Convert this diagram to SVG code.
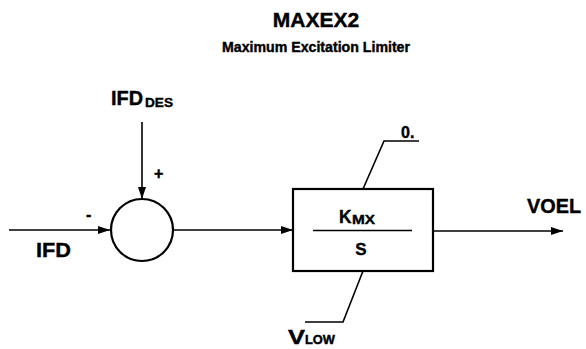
<svg xmlns="http://www.w3.org/2000/svg" width="586" height="349" viewBox="0 0 586 349">
<style>
text{font-family:"Liberation Sans",Arial,sans-serif;font-weight:bold;fill:#000;stroke:#000;stroke-width:0.4}
.ln{stroke:#000;stroke-width:1.6;fill:none}
.bx{stroke:#000;stroke-width:2.2;fill:#fff}
</style>
<defs>
<marker id="ah" markerUnits="userSpaceOnUse" markerWidth="13" markerHeight="9" refX="12" refY="4" orient="auto">
<path d="M0,0 L12,4 L0,8 z" fill="#000"/>
</marker>
</defs>
<rect width="586" height="349" fill="#fff"/>
<g id="title">
<text x="316" y="27" font-size="21" text-anchor="middle">MAXEX2</text>
<text x="316" y="52" font-size="14" text-anchor="middle" textLength="188" lengthAdjust="spacingAndGlyphs">Maximum Excitation Limiter</text>
</g>
<g id="connectors">
<line class="ln" x1="9" y1="230" x2="110" y2="230" marker-end="url(#ah)"/>
<line class="ln" x1="142" y1="122" x2="142" y2="199" marker-end="url(#ah)"/>
<line class="ln" x1="173" y1="230" x2="293" y2="230" marker-end="url(#ah)"/>
<line class="ln" x1="433" y1="231" x2="563" y2="231" marker-end="url(#ah)"/>
</g>
<g id="in-ifd">
<text x="36" y="257" font-size="21" textLength="35" lengthAdjust="spacingAndGlyphs">IFD</text>
<text x="86" y="220" font-size="16">-</text>
</g>
<g id="in-ifddes">
<text x="111" y="105" font-size="20" textLength="32" lengthAdjust="spacingAndGlyphs">IFD</text>
<text x="145" y="107" font-size="13" textLength="28" lengthAdjust="spacingAndGlyphs">DES</text>
<text x="154" y="179" font-size="16">+</text>
</g>
<g id="sum">
<circle cx="142" cy="230" r="31" class="bx"/>
</g>
<g id="block">
<rect x="293" y="189" width="140" height="82" class="bx"/>
<text x="339" y="223" font-size="19" textLength="12.5" lengthAdjust="spacingAndGlyphs">K</text>
<text x="352" y="224" font-size="13" textLength="23" lengthAdjust="spacingAndGlyphs">MX</text>
<line class="ln" x1="313" y1="230.5" x2="412" y2="230.5"/>
<text x="361" y="255" font-size="17" text-anchor="middle">S</text>
<polyline class="ln" points="363,189 384,141 419,141"/>
<polyline class="ln" points="363,271 343,322 305,322"/>
<text x="401" y="138" font-size="16">0.</text>
</g>
<g id="vlow">
<text x="288" y="344" font-size="20" textLength="17" lengthAdjust="spacingAndGlyphs">V</text>
<text x="305" y="344" font-size="12" textLength="30" lengthAdjust="spacingAndGlyphs">LOW</text>
</g>
<g id="out-voel">
<text x="527" y="213" font-size="20" textLength="54" lengthAdjust="spacingAndGlyphs">VOEL</text>
</g>
</svg>
